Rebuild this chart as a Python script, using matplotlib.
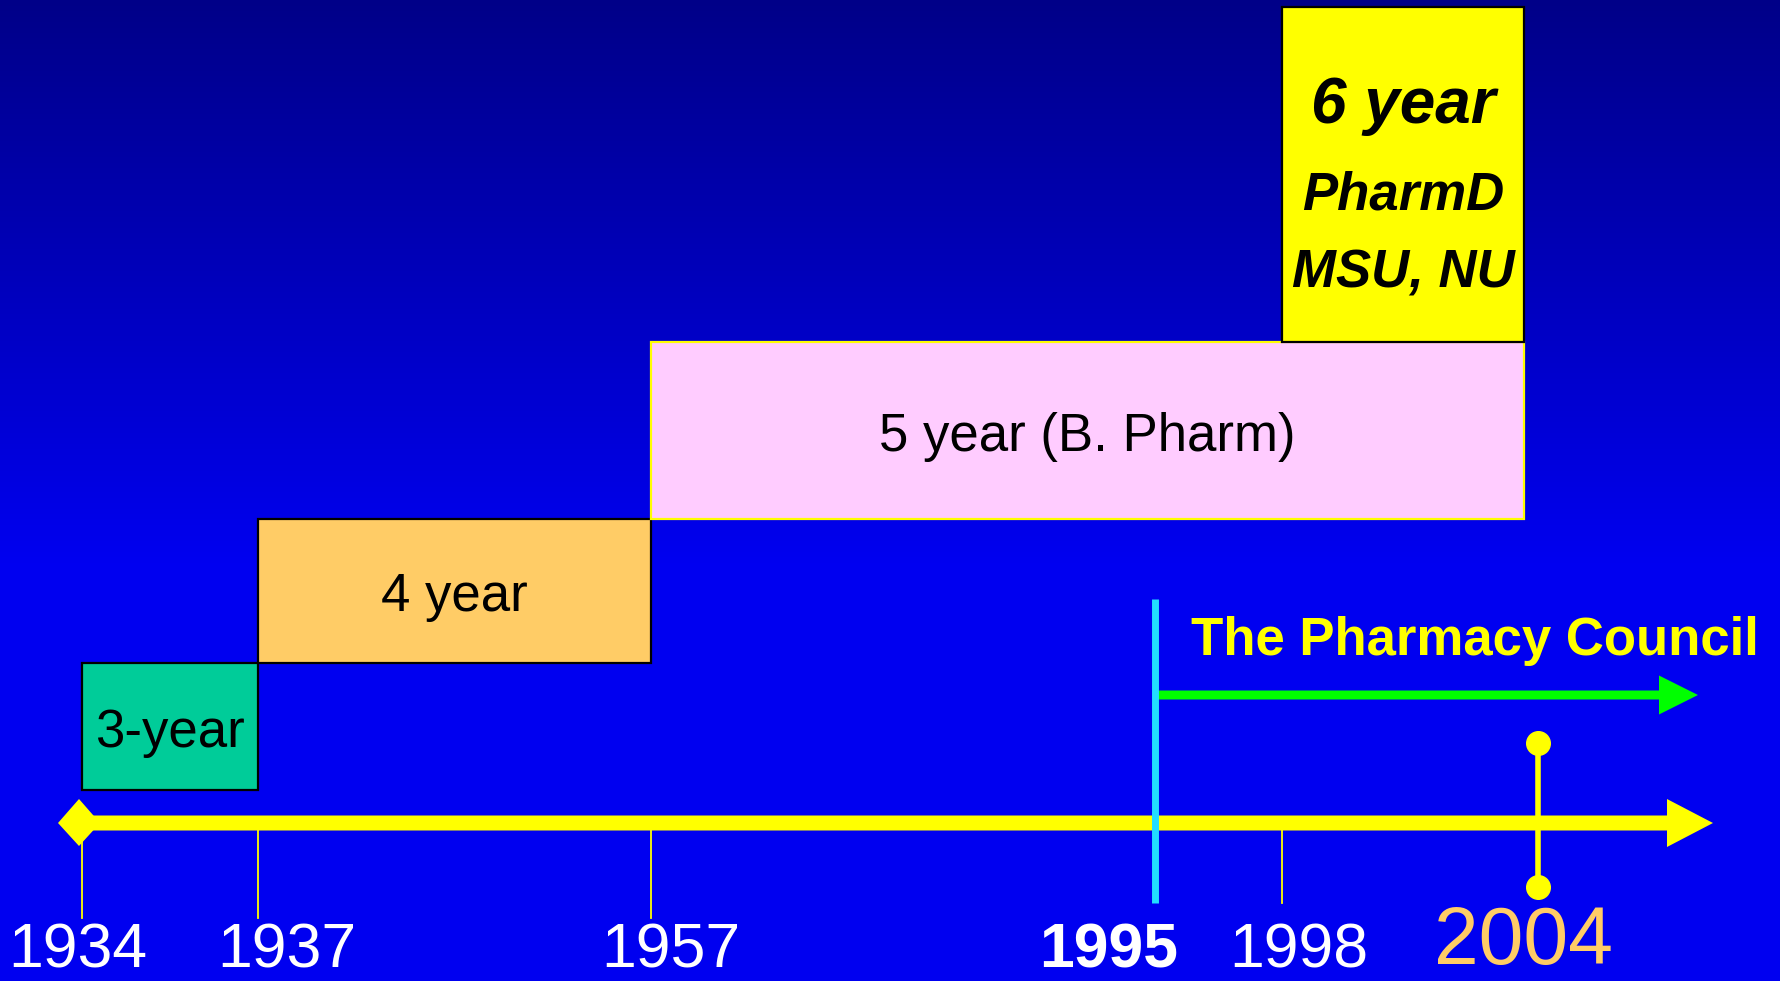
import numpy as np
import matplotlib
matplotlib.use("Agg")
import matplotlib.pyplot as plt
from matplotlib.patches import Rectangle, FancyArrow, Polygon

plt.rcParams['font.family'] = ['Liberation Sans', 'DejaVu Sans']

# timeline data
years = [1934, 1937, 1957, 1995, 1998, 2004]
year_bold = [False, False, False, True, False, False]

program_labels = ['3-year', '4 year', '5 year (B. Pharm)', '6 year']
program_start = [1934, 1937, 1957, 1998]
program_end = [1937, 1957, 2004, 2004]
program_colors = ['#00CC99', '#FFCC66', '#FFCCFF', '#FFFF00']
pharmd_lines = ['PharmD', 'MSU, NU']

council_year = 1995
council_label = 'The Pharmacy Council'
highlight_year = 2004

# schematic (non linear) placement of the years along the axis, in pixels
tick_x = [82, 258, 651, 1155, 1282, 1524]
label_dx = [-4, 29, 20, -46, 17, 0]


def xpos(yr):
    return np.interp(yr, years, tick_x)


W, H = 1781, 981
fig = plt.figure(figsize=(W / 100, H / 100), dpi=100)
ax = fig.add_axes([0, 0, 1, 1])
ax.set_xlim(0, W)
ax.set_ylim(H, 0)
ax.axis('off')

# background gradient, dark navy on top to bright blue
yy = np.arange(H)
blue = np.clip(136 + 0.185 * yy, 0, 240) / 255
bg = np.zeros((H, 1, 3))
bg[:, 0, 2] = blue
ax.imshow(bg, extent=[0, W, H, 0], aspect='auto', zorder=0)

# program boxes (stair steps)
box_top = [663, 519, 342, 7]
box_bot = [790, 663, 519, 342]
edges = ['black', 'black', '#FFFF00', 'black']
for i in range(len(program_labels)):
    x0 = xpos(program_start[i])
    x1 = xpos(program_end[i])
    ax.add_patch(Rectangle((x0, box_top[i]), x1 - x0, box_bot[i] - box_top[i],
                           facecolor=program_colors[i], edgecolor=edges[i],
                           linewidth=1.6, zorder=2))

for i in range(3):
    xc = (xpos(program_start[i]) + xpos(program_end[i])) / 2
    yc = (box_top[i] + box_bot[i]) / 2
    ax.text(xc, yc + 20, program_labels[i], fontsize=38, color='black',
            ha='center', va='baseline', zorder=3)

xc6 = (xpos(program_start[3]) + xpos(program_end[3])) / 2
ax.text(xc6, 123, program_labels[3], fontsize=46, fontweight='bold',
        fontstyle='italic', ha='center', va='baseline', zorder=3)
for line, yb in zip(pharmd_lines, [210, 288]):
    ax.text(xc6, yb, line, fontsize=38, fontweight='bold', fontstyle='italic',
            ha='center', va='baseline', zorder=3)

# main axis
axis_y = 823
ax.add_patch(FancyArrow(80, axis_y, 1713 - 80, 0, width=15, head_width=48,
                        head_length=46, length_includes_head=True,
                        color='#FFFF00', linewidth=0, zorder=4))
ax.add_patch(Polygon([[58, axis_y], [79, axis_y - 24], [100, axis_y], [79, axis_y + 23]],
                     closed=True, color='#FFFF00', linewidth=0, zorder=4))

# thin tick lines
tick_bottom = [918, 918, 918, None, 903, None]
for x, yb in zip(tick_x, tick_bottom):
    if yb is not None:
        ax.plot([x, x], [axis_y, yb], color='#FFFF00', lw=1.3, zorder=3)

# pharmacy council marker
xc = xpos(council_year)
ax.plot([xc, xc], [599, 903], color='#22DDFF', lw=5, zorder=5, solid_capstyle='butt')
ax.add_patch(FancyArrow(xc, 695, 1698 - xc, 0, width=9, head_width=39,
                        head_length=39, length_includes_head=True,
                        color='#00FF00', linewidth=0, zorder=4))
ax.text(1191, 655, council_label, fontsize=38, fontweight='bold',
        color='#FFFF00', ha='left', va='baseline', zorder=5)

# 2004 marker
xh = xpos(highlight_year) + 14
ax.plot([xh, xh], [743, 887], color='#FFFF00', lw=4, zorder=5,
        marker='o', markersize=17, markevery=[0, 1])

# year labels
for yr, x, dx, b in zip(years, tick_x, label_dx, year_bold):
    if yr == highlight_year:
        ax.text(x + dx, 964, str(yr), fontsize=58, color='#FFCC66',
                ha='center', va='baseline', zorder=5)
    else:
        ax.text(x + dx, 968, str(yr), fontsize=45, color='white',
                fontweight='bold' if b else 'normal',
                ha='center', va='baseline', zorder=5)

fig.savefig('out.png', dpi=100)
